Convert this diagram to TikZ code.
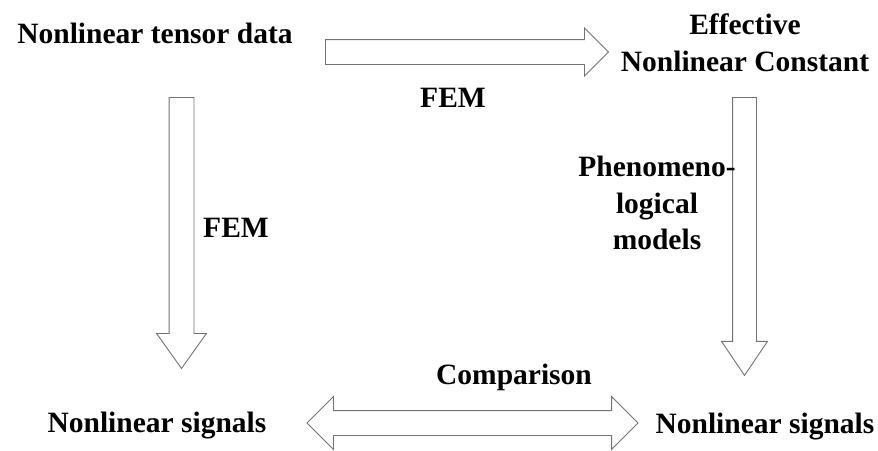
\documentclass[tikz,border=0pt]{standalone}
\usepackage{fontspec}
\setmainfont{Liberation Serif}
\usetikzlibrary{shapes,positioning}

\tikzset{
    lbl/.style={font=\fontsize{29.5}{36.5}\selectfont\bfseries, inner sep=0pt},
    blockarrow/.style={single arrow, draw=black!55, line width=0.9pt, fill=white, inner sep=12pt, single arrow head indent=0pt, anchor=tail},
    twoway/.style={double arrow, draw=black!55, line width=0.9pt, fill=white, inner sep=12pt, double arrow head indent=0pt}
}

\begin{document}
\begin{tikzpicture}[x=1pt, y=-1pt]
    \useasboundingbox (0,0) rectangle (878,450);

    % Corner texts
    \node[lbl, anchor=base] (data) at (155,43) {Nonlinear tensor data};
    \node[lbl, align=center] (const) at (745,43) {Effective\\Nonlinear Constant};
    \node[lbl, anchor=base] (sigL) at (157,432) {Nonlinear signals};
    \node[lbl, anchor=base] (sigR) at (765,433) {Nonlinear signals};

    % Block arrows
    \node[blockarrow, minimum height=283pt, single arrow head extend=11.5pt] (arTop) at (325,52) {};
    \node[blockarrow, minimum height=271pt, single arrow head extend=12.5pt, single arrow tip angle=71, shape border rotate=270] (arLeft) at (181.5,97) {};
    \node[blockarrow, minimum height=278pt, inner sep=11.5pt, single arrow head extend=11pt, single arrow tip angle=68, shape border rotate=270] (arRight) at (744.5,97) {};
    \node[twoway, minimum height=331pt, double arrow head extend=14pt] (arBottom) at (472.5,423) {};

    % Arrow labels
    \node[lbl, anchor=base] (femTop) at (453,107) {FEM};
    \node[lbl, anchor=base] (femLeft) at (236,237) {FEM};
    \node[lbl, align=center] (pheno) at (657,203) {Phenomeno-\\logical\\models};
    \node[lbl, anchor=base] (comp) at (514,384) {Comparison};
\end{tikzpicture}
\end{document}
